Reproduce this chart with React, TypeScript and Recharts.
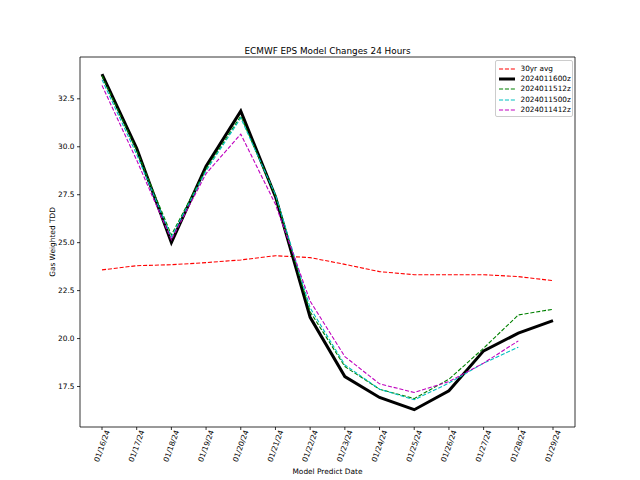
import React from 'react';
import { LineChart, Line, XAxis, YAxis, Legend, Label } from 'recharts';

// forecast dates on the x axis
const dates = [
  '01/16/24', '01/17/24', '01/18/24', '01/19/24', '01/20/24', '01/21/24', '01/22/24',
  '01/23/24', '01/24/24', '01/25/24', '01/26/24', '01/27/24', '01/28/24', '01/29/24',
];

// gas weighted TDD per model run
const avg30yr = [23.58, 23.8, 23.85, 23.96, 24.1, 24.32, 24.22, 23.87, 23.49, 23.33, 23.33, 23.33, 23.23, 23.02];
const run1600z = [33.79, 29.92, 25.0, 28.99, 31.86, 27.4, 21.11, 18.02, 16.93, 16.29, 17.28, 19.36, 20.28, 20.94];
const run1512z = [33.7, 29.8, 25.4, 28.85, 31.6, 27.45, 21.4, 18.54, 17.36, 16.87, 17.88, 19.5, 21.23, 21.53];
const run1500z = [33.5, 29.6, 25.3, 28.75, 31.5, 27.5, 21.6, 18.63, 17.36, 16.81, 17.68, 18.72, 19.55];
const run1412z = [33.2, 29.3, 25.15, 28.6, 30.66, 27.0, 21.95, 19.06, 17.64, 17.19, 17.76, 18.72, 19.88];

const yTicks = [17.5, 20.0, 22.5, 25.0, 27.5, 30.0, 32.5];

const FONT = '"DejaVu Sans", sans-serif';
const DASH = '4.1 1.8';

const series = [
  { key: 'avg', name: '30yr avg', color: '#ff0000', width: 1.1, dash: DASH, values: avg30yr },
  { key: 'r1600', name: '2024011600z', color: '#000000', width: 3, dash: undefined, values: run1600z },
  { key: 'r1512', name: '2024011512z', color: '#008000', width: 1.1, dash: DASH, values: run1512z },
  { key: 'r1500', name: '2024011500z', color: '#00bfbf', width: 1.1, dash: DASH, values: run1500z },
  { key: 'r1412', name: '2024011412z', color: '#bf00bf', width: 1.1, dash: DASH, values: run1412z },
];

const data = dates.map((date, i) => {
  const row: Record<string, any> = { date };
  series.forEach((s) => {
    row[s.key] = s.values[i] ?? null;
  });
  return row;
});

const DateTick = (props: any) => {
  const { x, y, payload } = props;
  const cy = y + 16;
  return (
    <text
      x={x}
      y={cy}
      textAnchor="middle"
      dominantBaseline="central"
      transform={`rotate(-70, ${x}, ${cy})`}
      fontSize={7.4}
      fontFamily={FONT}
      fill="#000"
    >
      {payload.value}
    </text>
  );
};

const LegendBox = () => (
  <div
    style={{
      width: 78,
      height: 57,
      boxSizing: 'border-box',
      border: '1px solid #cccccc',
      borderRadius: 2,
      background: 'rgba(255,255,255,0.8)',
      paddingTop: 2.5,
      fontFamily: FONT,
      fontSize: 7.3,
      color: '#000',
    }}
  >
    {series.map((s) => (
      <div key={s.key} style={{ height: 10.3, display: 'flex', alignItems: 'center' }}>
        <svg width={16} height={6} style={{ marginLeft: 2.5, marginRight: 6 }}>
          <line
            x1={0}
            x2={16}
            y1={3}
            y2={3}
            stroke={s.color}
            strokeWidth={s.width}
            strokeDasharray={s.dash}
          />
        </svg>
        <span style={{ lineHeight: '10px', whiteSpace: 'nowrap' }}>{s.name}</span>
      </div>
    ))}
  </div>
);

const App: React.FC = () => {
  const yDomain = [15.39, 34.68];
  return (
    <div style={{ position: 'absolute', left: 0, top: 0, width: 640, height: 480, background: '#fff' }}>
      <LineChart
        width={640}
        height={480}
        data={data}
        margin={{ top: 56, right: 64, bottom: 0, left: 0 }}
        style={{ fontFamily: FONT }}
      >
        <XAxis
          dataKey="date"
          height={53}
          padding={{ left: 22, right: 22 }}
          interval={0}
          tickSize={3}
          tickMargin={0}
          tick={<DateTick />}
          axisLine={{ stroke: '#000', strokeWidth: 0.8 }}
          tickLine={{ stroke: '#000', strokeWidth: 0.8 }}
        >
          <Label
            content={() => (
              <text x={327.5} y={474} textAnchor="middle" fontSize={7.4} fontFamily={FONT} fill="#000">
                Model Predict Date
              </text>
            )}
          />
        </XAxis>
        <XAxis
          xAxisId="top"
          dataKey="date"
          orientation="top"
          height={1}
          padding={{ left: 22, right: 22 }}
          tick={false}
          tickLine={false}
          axisLine={{ stroke: '#000', strokeWidth: 0.8 }}
        >
          <Label
            content={() => (
              <text x={327.5} y={53.8} textAnchor="middle" fontSize={8.85} fontFamily={FONT} fill="#000">
                ECMWF EPS Model Changes 24 Hours
              </text>
            )}
          />
        </XAxis>
        <YAxis
          width={80}
          type="number"
          domain={yDomain}
          allowDataOverflow
          ticks={yTicks}
          tickFormatter={(v: number) => v.toFixed(1)}
          tickSize={3}
          tickMargin={2.5}
          tick={{ fontSize: 7.4, fill: '#000', fontFamily: FONT }}
          axisLine={{ stroke: '#000', strokeWidth: 0.8 }}
          tickLine={{ stroke: '#000', strokeWidth: 0.8 }}
        >
          <Label
            content={() => (
              <text
                x={52}
                y={242}
                textAnchor="middle"
                dominantBaseline="central"
                transform="rotate(-90, 52, 242)"
                fontSize={7.4}
                fontFamily={FONT}
                fill="#000"
              >
                Gas Weighted TDD
              </text>
            )}
          />
        </YAxis>
        <YAxis
          yAxisId="right"
          orientation="right"
          width={1}
          type="number"
          domain={yDomain}
          allowDataOverflow
          tick={false}
          tickLine={false}
          axisLine={{ stroke: '#000', strokeWidth: 0.8 }}
        />
        {series.map((s) => (
          <Line
            key={s.key}
            type="linear"
            dataKey={s.key}
            name={s.name}
            stroke={s.color}
            strokeWidth={s.width}
            strokeDasharray={s.dash}
            dot={false}
            activeDot={false}
            isAnimationActive={false}
          />
        ))}
        <Legend
          layout="vertical"
          align="center"
          verticalAlign="middle"
          content={<LegendBox />}
          wrapperStyle={{ left: 495, top: 60, width: 78, height: 57, margin: 0 }}
        />
      </LineChart>
    </div>
  );
};

export default App;
